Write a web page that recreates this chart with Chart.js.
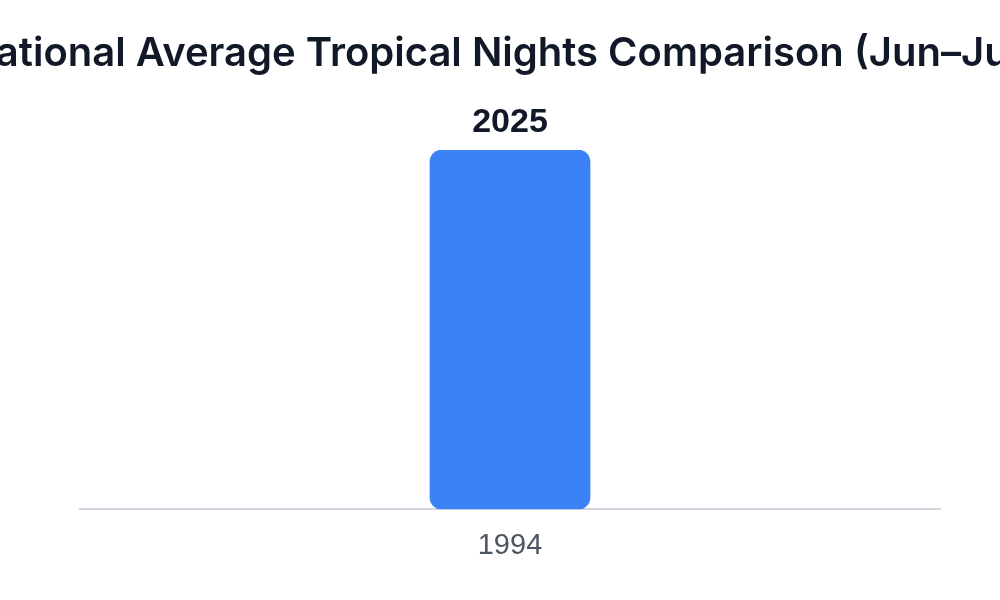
<!DOCTYPE html>
<html>
<head>
<meta charset="utf-8">
<script src="https://cdn.jsdelivr.net/npm/chart.js@4.4.0/dist/chart.umd.min.js"></script>
<style>
  html, body { margin: 0; padding: 0; background: #ffffff; }
  #wrap { width: 1000px; height: 600px; }
</style>
</head>
<body>
<div id="wrap"><canvas id="c" width="1000" height="600"></canvas></div>
<script>
const titleText = 'National Average Tropical Nights Comparison (Jun–Jul)';
const categories = ['1994'];
const seriesLabel = '2025';
const seriesValues = [16.8];
const yMax = 16.8;

// Title drawn without width compression (it overflows the canvas in the reference)
const wideTitlePlugin = {
  id: 'wideTitle',
  afterDraw(chart) {
    const ctx = chart.ctx;
    ctx.save();
    ctx.font = '600 40px Inter, "Noto Sans", sans-serif';
    ctx.fillStyle = '#111827';
    ctx.textAlign = 'center';
    ctx.textBaseline = 'alphabetic';
    ctx.fillText(titleText, chart.width / 2, 66);
    ctx.restore();
  }
};

const barLabelPlugin = {
  id: 'barLabel',
  afterDatasetsDraw(chart) {
    const ctx = chart.ctx;
    chart.data.datasets.forEach((ds, di) => {
      const meta = chart.getDatasetMeta(di);
      meta.data.forEach((bar) => {
        ctx.save();
        ctx.font = 'bold 34px "Liberation Sans", Arial, sans-serif';
        ctx.fillStyle = '#111827';
        ctx.textAlign = 'center';
        ctx.textBaseline = 'alphabetic';
        ctx.fillText(ds.label, bar.x, bar.y - 18);
        ctx.restore();
      });
    });
  }
};

new Chart(document.getElementById('c'), {
  type: 'bar',
  data: {
    labels: categories,
    datasets: [{
      label: seriesLabel,
      data: seriesValues,
      backgroundColor: '#3b82f6',
      borderRadius: 12,
      borderSkipped: false,
      barThickness: 160
    }]
  },
  options: {
    responsive: false,
    animation: false,
    devicePixelRatio: 1,
    layout: { padding: { left: 80, right: 60, top: 150, bottom: 18 } },
    plugins: {
      legend: { display: false },
      tooltip: { enabled: false },
      title: { display: false }
    },
    scales: {
      x: {
        grid: { display: false, drawTicks: false },
        border: { display: true, color: '#d5d5e0', width: 2 },
        ticks: {
          color: '#4b5563',
          padding: 19,
          font: { family: '"Liberation Sans", Arial, sans-serif', size: 29 }
        }
      },
      y: {
        display: false,
        min: 0,
        max: yMax
      }
    }
  },
  plugins: [wideTitlePlugin, barLabelPlugin]
});
</script>
</body>
</html>
